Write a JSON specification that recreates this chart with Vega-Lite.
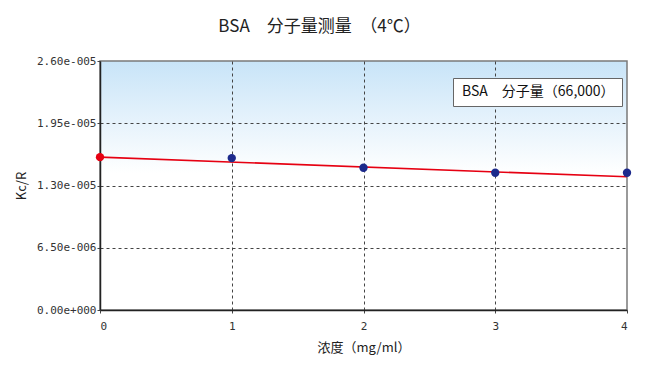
{
  "$schema": "https://vega.github.io/schema/vega-lite/v6.json",
  "width": 527,
  "height": 249,
  "autosize": {"type": "none"},
  "padding": {"left": 100, "top": 61, "right": 19, "bottom": 68},
  "background": "white",
  "title": {
    "text": "BSA　分子量测量　（4℃）",
    "font": "Noto Sans CJK SC",
    "fontSize": 17,
    "fontWeight": "normal",
    "color": "#222222",
    "anchor": "middle",
    "frame": "group",
    "dx": -44,
    "offset": 19
  },
  "datasets": {
    "points": [
      {"c": 0, "kcr": 1.596e-5, "kind": "fit"},
      {"c": 1, "kcr": 1.586e-5, "kind": "measured"},
      {"c": 2, "kcr": 1.485e-5, "kind": "measured"},
      {"c": 3, "kcr": 1.433e-5, "kind": "measured"},
      {"c": 4, "kcr": 1.433e-5, "kind": "measured"}
    ],
    "fit": [
      {"c": 0, "kcr": 1.596e-5, "series": "BSA　分子量（66,000）"},
      {"c": 4, "kcr": 1.391e-5, "series": "BSA　分子量（66,000）"}
    ]
  },
  "encoding": {
    "x": {
      "field": "c",
      "type": "quantitative",
      "scale": {"domain": [0, 4], "nice": false, "zero": false},
      "axis": {
        "values": [0, 1, 2, 3, 4],
        "format": "d",
        "title": "浓度（mg/ml）",
        "grid": true,
        "gridOpacity": {"condition": {"test": "datum.value == 0 || datum.value == 4", "value": 0}, "value": 1}
      }
    },
    "y": {
      "field": "kcr",
      "type": "quantitative",
      "scale": {"domain": [0, 2.6e-5], "nice": false},
      "axis": {
        "values": [0, 6.5e-6, 1.3e-5, 1.95e-5, 2.6e-5],
        "labelExpr": "replace(replace(format(datum.value, '.2e'), 'e-', 'e-00'), 'e+', 'e+00')",
        "title": "Kc/R",
        "grid": true,
        "gridOpacity": {"condition": {"test": "datum.value < 1e-7 || datum.value > 2.59e-5", "value": 0}, "value": 1}
      }
    }
  },
  "layer": [
    {
      "data": {"name": "fit"},
      "mark": {"type": "line", "strokeWidth": 1.6},
      "encoding": {
        "color": {
          "field": "series",
          "type": "nominal",
          "scale": {"range": ["#e60012"]},
          "legend": {
            "title": null,
            "orient": "none",
            "legendX": 353,
            "legendY": 17,
            "padding": 7,
            "fillColor": "white",
            "strokeColor": "#666666",
            "symbolSize": 0,
            "symbolOpacity": 0,
            "symbolStrokeWidth": 0,
            "symbolType": "circle",
            "labelOffset": -12,
            "labelFont": "Noto Sans CJK SC",
            "labelFontSize": 14,
            "labelColor": "#111111",
            "labelLimit": 300
          }
        }
      }
    },
    {
      "data": {"name": "points"},
      "mark": {"type": "point", "filled": true, "size": 70, "opacity": 1},
      "encoding": {
        "color": {
          "field": "kind",
          "type": "nominal",
          "scale": {"domain": ["fit", "measured"], "range": ["#e60012", "#1c2a8c"]},
          "legend": null
        }
      }
    }
  ],
  "resolve": {"scale": {"color": "independent"}},
  "config": {
    "view": {
      "stroke": "#7a7a7a",
      "strokeWidth": 1.5,
      "fill": {
        "gradient": "linear",
        "x1": 0, "y1": 0, "x2": 0, "y2": 1,
        "stops": [
          {"offset": 0, "color": "#c8e4f8"},
          {"offset": 0.45, "color": "#ffffff"},
          {"offset": 1, "color": "#ffffff"}
        ]
      }
    },
    "axis": {
      "labelFont": "DejaVu Sans Mono",
      "labelFontSize": 11,
      "labelColor": "#333333",
      "titleFont": "Noto Sans CJK SC",
      "titleFontSize": 13,
      "titleFontWeight": "normal",
      "titleColor": "#222222",
      "domainColor": "#222222",
      "domainWidth": 1.5,
      "tickColor": "#444444",
      "tickSize": 3,
      "gridColor": "#444444",
      "gridDash": [3, 3],
      "gridWidth": 1
    },
    "axisX": {"labelPadding": 7, "titlePadding": 10},
    "axisY": {"labelPadding": 1, "titlePadding": 8}
  }
}
